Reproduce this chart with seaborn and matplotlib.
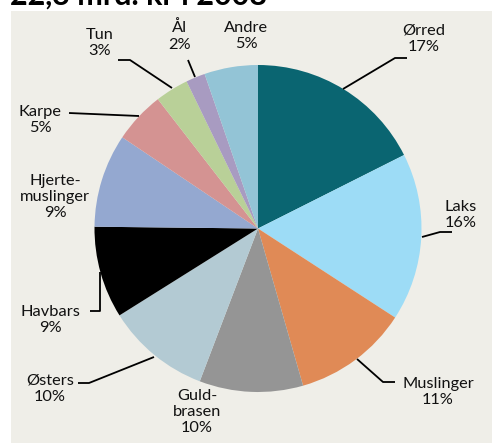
import matplotlib
matplotlib.use("Agg")
import matplotlib.pyplot as plt
import seaborn as sns
from matplotlib.patches import Rectangle

sns.set_style("white")
plt.rcParams['font.family'] = ['Lato', 'DejaVu Sans']

# Data
categories = ["Ørred", "Laks", "Muslinger", "Guldbrasen", "Østers", "Havbars",
              "Hjertemuslinger", "Karpe", "Tun", "Ål", "Andre"]
shares = [17.6, 16.6, 11.4, 10.25, 10.3, 9.1, 9.25, 5.1, 3.3, 1.9, 5.3]
label_texts = ["Ørred\n17%", "Laks\n16%", "Muslinger\n11%", "Guld-\nbrasen\n10%",
               "Østers\n10%", "Havbars\n9%", "Hjerte-\nmuslinger\n9%", "Karpe\n5%",
               "Tun\n3%", "Ål\n2%", "Andre\n5%"]
colors = sns.color_palette(["#0a6571", "#9ddcf6", "#e08a56", "#959595", "#b3cad3",
                            "#000000", "#94a8d0", "#d49392", "#b9d098", "#a89bc1",
                            "#93c4d6"])
title = "22,3 mrd. kr i 2008"

W, H = 492, 443
fig = plt.figure(figsize=(W / 100, H / 100), dpi=100)
fig.patch.set_facecolor("white")
ax = fig.add_axes([0, 0, 1, 1])

def py(y):
    return H - y

# background panel
ax.add_patch(Rectangle((11, 0), W - 11, H - 11, facecolor="#efeee8", edgecolor="none", zorder=0))

ax.pie(shares, colors=colors, startangle=90, counterclock=False,
       center=(258, py(228.5)), radius=163.5,
       wedgeprops=dict(edgecolor="none", linewidth=0), frame=True)

ax.set_xlim(0, W)
ax.set_ylim(0, H)
ax.set_aspect("equal")
ax.axis("off")

# leader lines (pixel positions)
leaders = [
    [(343, 89), (395, 58), (407, 58)],
    [(422, 237), (440, 232), (452, 232)],
    [(357, 359), (383, 382), (395, 382)],
    [(154, 357), (89, 383), (78, 383)],
    [(100, 272), (100, 311), (90, 311)],
    [(139, 116), (69, 113)],
    [(172, 88), (130, 60), (118, 60)],
    [(195, 77), (188, 60)],
]
for pts in leaders:
    xs = [p[0] for p in pts]
    ys = [py(p[1]) for p in pts]
    ax.plot(xs, ys, color="black", lw=1.3, solid_capstyle="butt", zorder=5)

# label positions (center of text block)
label_pos = [(424, 39), (461, 215), (438, 392), (197, 412), (50, 389), (50, 320),
             (55, 197), (40, 120), (100, 43), (180, 36), (246, 36)]
for txt, (x, y) in zip(label_texts, label_pos):
    ax.text(x, py(y), txt, ha="center", va="center", fontsize=11.8,
            linespacing=1.22, color="#111111", zorder=6)

ax.text(10, py(5), title, ha="left", va="baseline", fontsize=22,
        fontweight="bold", color="black", zorder=6)

fig.savefig("out.png", dpi=100)
